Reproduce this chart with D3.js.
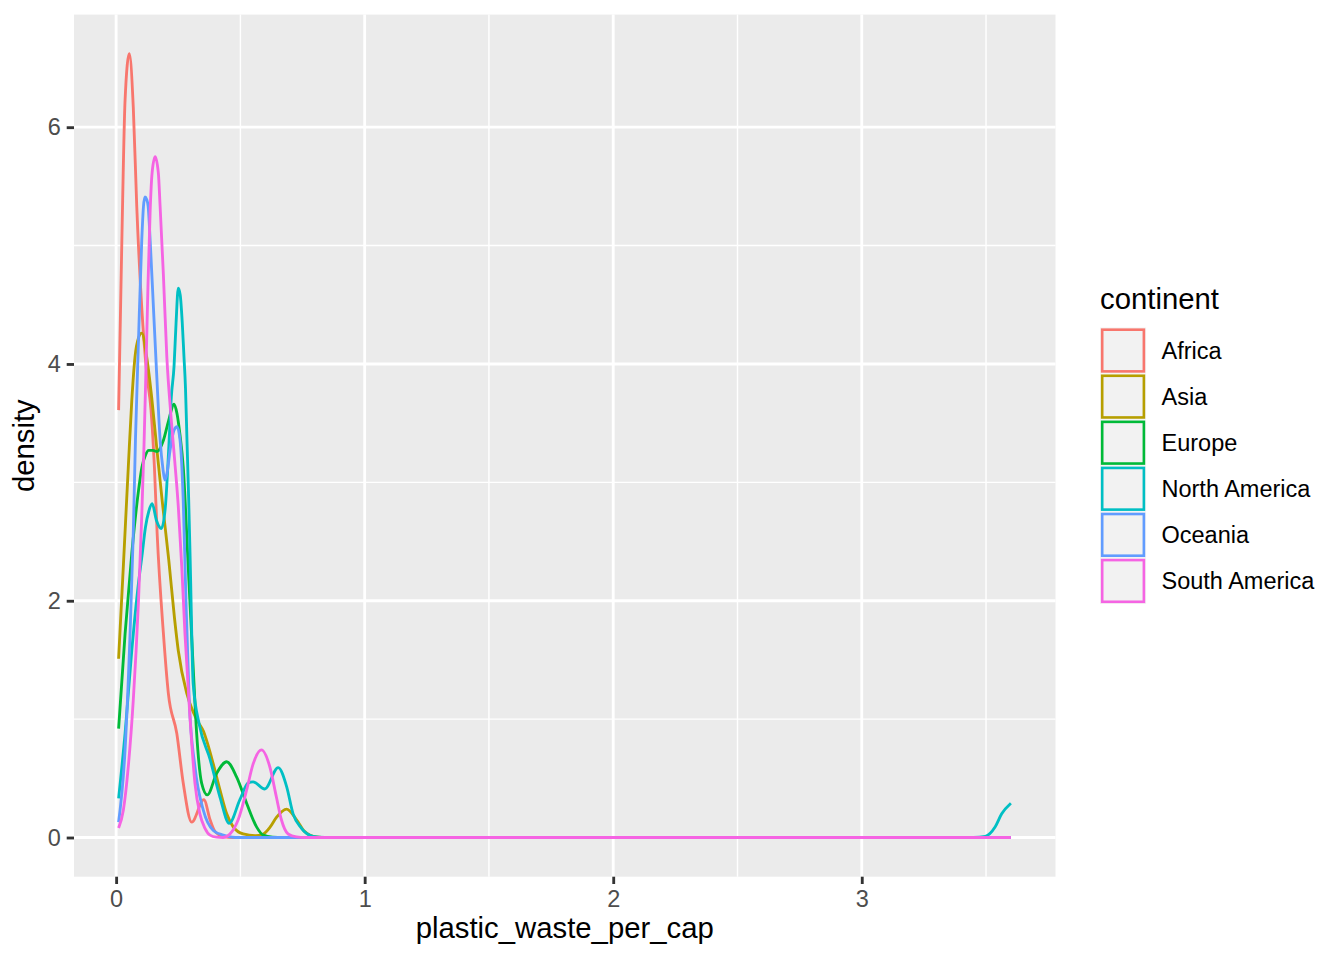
<!DOCTYPE html>
<html><head><meta charset="utf-8">
<script src="https://cdn.jsdelivr.net/npm/d3@7"></script>
<style>
body{margin:0;background:#fff}
text{font-family:"Liberation Sans",Arial,Helvetica,sans-serif}
</style>
</head><body>
<svg id="chart" width="1344" height="960"></svg>
<script>
// ---- data ----
const continents = ["Africa","Asia","Europe","North America","Oceania","South America"];
const colors = ["#F8766D","#B79F00","#00BA38","#00BFC4","#619CFF","#F564E3"];

const africa = [[0.01,3.61],[0.023,5.04],[0.036,6.23],[0.053,6.62],[0.069,6.17],[0.083,5.33],[0.103,4.48],[0.123,3.92],[0.140,3.62],[0.154,3.13],[0.165,2.57],[0.190,1.73],[0.210,1.22],[0.244,0.88],[0.270,0.46],[0.304,0.13],[0.353,0.32],[0.378,0.15],[0.398,0.05],[0.43,0.01],[0.47,0],[3.6,0]];
const asia = [[0.01,1.51],[0.029,2.29],[0.049,3.13],[0.063,3.69],[0.076,4.06],[0.090,4.22],[0.103,4.26],[0.123,4.06],[0.143,3.72],[0.163,3.30],[0.185,2.85],[0.212,2.34],[0.235,1.85],[0.250,1.58],[0.284,1.22],[0.310,1.06],[0.337,0.95],[0.351,0.90],[0.364,0.82],[0.391,0.62],[0.418,0.40],[0.445,0.20],[0.471,0.09],[0.511,0.03],[0.56,0.015],[0.592,0.03],[0.620,0.09],[0.645,0.17],[0.686,0.24],[0.726,0.15],[0.759,0.05],[0.806,0.005],[0.85,0],[3.6,0]];
const europe = [[0.01,0.92],[0.036,1.72],[0.063,2.40],[0.090,2.93],[0.104,3.13],[0.118,3.23],[0.131,3.27],[0.148,3.27],[0.165,3.26],[0.191,3.36],[0.211,3.52],[0.233,3.66],[0.245,3.58],[0.257,3.40],[0.270,3.13],[0.290,2.29],[0.310,1.44],[0.324,0.88],[0.344,0.46],[0.367,0.36],[0.404,0.54],[0.445,0.64],[0.485,0.51],[0.525,0.29],[0.565,0.09],[0.592,0.02],[0.63,0.003],[0.67,0],[3.6,0]];
const northAmerica = [[0.01,0.33],[0.036,0.88],[0.063,1.58],[0.090,2.15],[0.104,2.38],[0.118,2.62],[0.132,2.76],[0.145,2.82],[0.162,2.68],[0.182,2.61],[0.198,2.79],[0.212,3.30],[0.222,3.72],[0.233,3.98],[0.241,4.34],[0.250,4.64],[0.258,4.58],[0.266,4.35],[0.273,4.06],[0.279,3.80],[0.285,3.36],[0.292,2.85],[0.298,2.34],[0.310,1.30],[0.335,0.95],[0.378,0.66],[0.418,0.34],[0.455,0.12],[0.498,0.32],[0.531,0.46],[0.551,0.47],[0.598,0.41],[0.652,0.59],[0.686,0.43],[0.712,0.20],[0.745,0.08],[0.792,0.01],[0.84,0],[3.45,0],[3.497,0.01],[3.537,0.09],[3.563,0.20],[3.6,0.29]];
const oceania = [[0.01,0.13],[0.036,0.74],[0.056,1.72],[0.069,2.57],[0.078,3.38],[0.090,4.20],[0.103,5.04],[0.110,5.33],[0.116,5.41],[0.123,5.39],[0.129,5.33],[0.137,5.04],[0.150,4.48],[0.163,3.92],[0.177,3.36],[0.188,3.12],[0.196,3.02],[0.205,3.08],[0.217,3.27],[0.233,3.44],[0.245,3.47],[0.257,3.36],[0.270,2.85],[0.281,2.0],[0.294,1.16],[0.317,0.60],[0.351,0.23],[0.391,0.06],[0.431,0.02],[0.48,0],[3.6,0]];
const southAmerica = [[0.01,0.08],[0.029,0.23],[0.049,0.60],[0.069,1.16],[0.090,2.0],[0.103,2.71],[0.112,3.30],[0.120,3.95],[0.128,4.65],[0.137,5.30],[0.145,5.62],[0.157,5.75],[0.170,5.61],[0.177,5.33],[0.190,4.76],[0.204,4.06],[0.221,3.55],[0.237,3.15],[0.250,2.80],[0.264,2.29],[0.277,1.72],[0.297,1.02],[0.317,0.46],[0.337,0.20],[0.357,0.08],[0.378,0.02],[0.404,0.003],[0.43,0],[0.458,0.03],[0.491,0.15],[0.525,0.40],[0.551,0.62],[0.585,0.74],[0.618,0.60],[0.645,0.34],[0.665,0.15],[0.692,0.03],[0.726,0.005],[0.76,0],[3.6,0]];

const seriesData = [africa, asia, europe, northAmerica, oceania, southAmerica];

const xMajor = [0,1,2,3];
const xMinor = [0.5,1.5,2.5,3.5];
const yMajor = [0,2,4,6];
const yMinor = [1,3,5];
const xTitle = "plastic_waste_per_cap";
const yTitle = "density";
const legendTitle = "continent";

// ---- layout ----
const panel = {left:74, right:1055.5, top:14.6, bottom:876.7};
const svg = d3.select("#chart");

const allPts = seriesData.flat();
const xExt = d3.extent(allPts, d => d[0]);
const yMax = d3.max(allPts, d => d[1]);
const xPad = (xExt[1]-xExt[0])*0.05;
const x = d3.scaleLinear().domain([xExt[0]-xPad, xExt[1]+xPad]).range([panel.left, panel.right]);
const y = d3.scaleLinear().domain([0 - yMax*0.05, yMax*1.05]).range([panel.bottom, panel.top]);

// panel background
svg.append("rect").attr("x",panel.left).attr("y",panel.top)
  .attr("width",panel.right-panel.left).attr("height",panel.bottom-panel.top)
  .attr("fill","#EBEBEB");

const grid = svg.append("g");
grid.selectAll(".xmin").data(xMinor).enter().append("line")
  .attr("x1",d=>x(d)).attr("x2",d=>x(d)).attr("y1",panel.top).attr("y2",panel.bottom)
  .attr("stroke","#fff").attr("stroke-width",1.42);
grid.selectAll(".ymin").data(yMinor).enter().append("line")
  .attr("y1",d=>y(d)).attr("y2",d=>y(d)).attr("x1",panel.left).attr("x2",panel.right)
  .attr("stroke","#fff").attr("stroke-width",1.42);
grid.selectAll(".xmaj").data(xMajor).enter().append("line")
  .attr("x1",d=>x(d)).attr("x2",d=>x(d)).attr("y1",panel.top).attr("y2",panel.bottom)
  .attr("stroke","#fff").attr("stroke-width",2.85);
grid.selectAll(".ymaj").data(yMajor).enter().append("line")
  .attr("y1",d=>y(d)).attr("y2",d=>y(d)).attr("x1",panel.left).attr("x2",panel.right)
  .attr("stroke","#fff").attr("stroke-width",2.85);

// density lines
const line = d3.line().x(d=>x(d[0])).y(d=>y(d[1])).curve(d3.curveMonotoneX);
svg.append("g").selectAll("path").data(seriesData).enter().append("path")
  .attr("d", line)
  .attr("fill","none")
  .attr("stroke",(d,i)=>colors[i])
  .attr("stroke-width",2.85)
  .attr("stroke-linejoin","round");

// axes
const tickLen = 7.3, tickPad = 5.9;
const xAxis = d3.axisBottom(x).tickValues(xMajor).tickSize(tickLen).tickSizeOuter(0).tickPadding(tickPad).tickFormat(d3.format("d"));
const gx = svg.append("g").attr("transform",`translate(0,${panel.bottom})`).call(xAxis);
const yAxis = d3.axisLeft(y).tickValues(yMajor).tickSize(tickLen).tickSizeOuter(0).tickPadding(tickPad).tickFormat(d3.format("d"));
const gy = svg.append("g").attr("transform",`translate(${panel.left},0)`).call(yAxis);
[gx,gy].forEach(g=>{
  g.select(".domain").remove();
  g.selectAll(".tick line").attr("stroke","#333333").attr("stroke-width",2.85);
  g.selectAll(".tick text").attr("fill","#4D4D4D").style("font-size","23.5px")
    .style("font-family",'"Liberation Sans",Arial,sans-serif');
});

// axis titles
svg.append("text").attr("x",(panel.left+panel.right)/2).attr("y",938.3)
  .attr("text-anchor","middle").style("font-size","29.3px").attr("fill","#000").text(xTitle);
svg.append("text").attr("transform",`translate(33.5,${(panel.top+panel.bottom)/2}) rotate(-90)`)
  .attr("text-anchor","middle").style("font-size","29.3px").attr("fill","#000").text(yTitle);

// legend
const lg = svg.append("g");
const keyX = 1100, keyTop = 327.5, keySize = 46.08;
lg.append("text").attr("x",keyX).attr("y",309.3).style("font-size","29.3px").attr("fill","#000").text(legendTitle);
const items = lg.selectAll("g.item").data(continents).enter().append("g")
  .attr("transform",(d,i)=>`translate(${keyX},${keyTop+i*keySize})`);
items.append("rect").attr("width",keySize).attr("height",keySize).attr("fill","#F2F2F2");
items.append("rect").attr("x",2.2).attr("y",2.2).attr("width",keySize-4.4).attr("height",keySize-4.4)
  .attr("fill","none").attr("stroke",(d,i)=>colors[i]).attr("stroke-width",2.6);
items.append("text").attr("x",61.5).attr("y",keySize/2).attr("dy","0.35em")
  .style("font-size","23.5px").attr("fill","#000").text(d=>d);
</script>
</body></html>
